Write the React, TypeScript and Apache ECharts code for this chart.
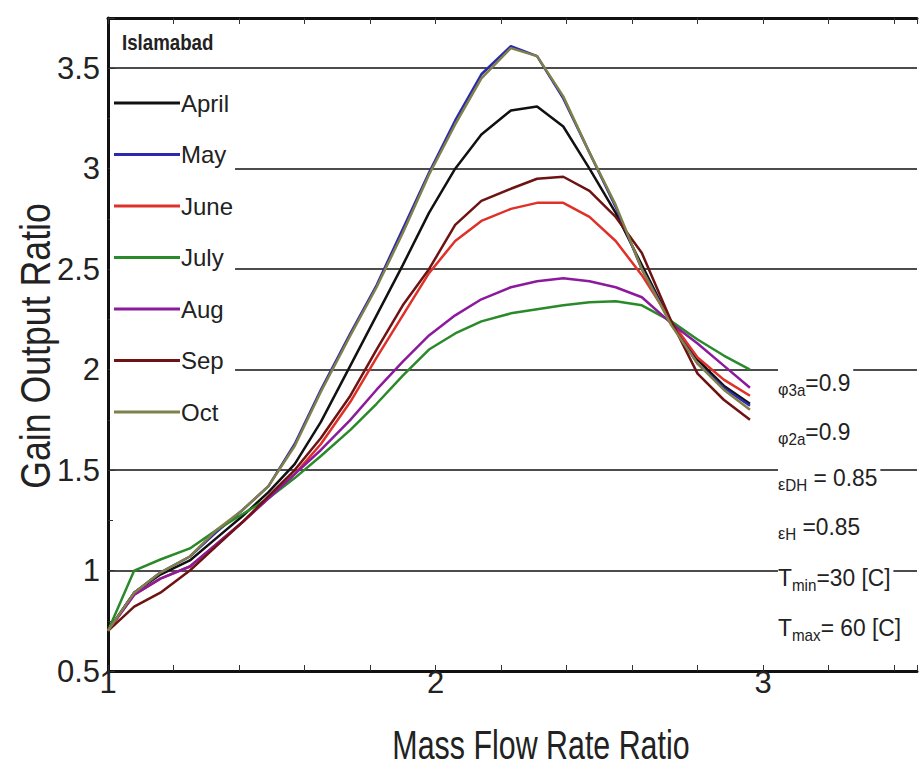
import React, { useEffect, useRef } from 'react';
import * as echarts from 'echarts';

const FONT = "'Liberation Sans', Arial, Helvetica, sans-serif";

const xValues = [1.00, 1.08, 1.16, 1.25, 1.33, 1.41, 1.49, 1.57, 1.65, 1.74, 1.82, 1.90, 1.98, 2.06, 2.14, 2.23, 2.31, 2.39, 2.47, 2.55, 2.63, 2.72, 2.80, 2.88, 2.96];

const april = [0.70, 0.89, 0.98, 1.05, 1.16, 1.27, 1.39, 1.53, 1.74, 2.02, 2.27, 2.52, 2.78, 3.00, 3.17, 3.29, 3.31, 3.21, 3.00, 2.78, 2.52, 2.23, 2.05, 1.92, 1.83];
const may = [0.70, 0.89, 0.99, 1.07, 1.19, 1.30, 1.42, 1.63, 1.90, 2.18, 2.42, 2.70, 2.98, 3.24, 3.47, 3.61, 3.56, 3.35, 3.08, 2.81, 2.50, 2.23, 2.03, 1.91, 1.82];
const june = [0.70, 0.88, 0.96, 1.02, 1.13, 1.24, 1.36, 1.48, 1.63, 1.84, 2.06, 2.27, 2.48, 2.64, 2.74, 2.80, 2.83, 2.83, 2.76, 2.64, 2.47, 2.24, 2.06, 1.95, 1.87];
const july = [0.70, 1.00, 1.055, 1.11, 1.20, 1.28, 1.36, 1.46, 1.57, 1.70, 1.83, 1.97, 2.10, 2.18, 2.24, 2.28, 2.30, 2.32, 2.335, 2.34, 2.32, 2.24, 2.15, 2.07, 2.00];
const aug = [0.70, 0.88, 0.96, 1.02, 1.13, 1.24, 1.36, 1.48, 1.60, 1.75, 1.90, 2.04, 2.17, 2.27, 2.35, 2.41, 2.44, 2.455, 2.44, 2.41, 2.36, 2.23, 2.13, 2.02, 1.91];
const sep = [0.70, 0.82, 0.89, 1.00, 1.12, 1.24, 1.37, 1.50, 1.66, 1.87, 2.10, 2.32, 2.50, 2.72, 2.84, 2.90, 2.95, 2.96, 2.89, 2.76, 2.58, 2.24, 1.98, 1.85, 1.75];
const oct = [0.70, 0.89, 0.99, 1.07, 1.20, 1.30, 1.42, 1.62, 1.89, 2.17, 2.41, 2.68, 2.97, 3.22, 3.45, 3.60, 3.56, 3.36, 3.08, 2.82, 2.50, 2.22, 2.03, 1.90, 1.80];

const months = ['April', 'May', 'June', 'July', 'Aug', 'Sep', 'Oct'];
const monthValues = [april, may, june, july, aug, sep, oct];
const monthColors = ['#111111', '#2a2ab0', '#e0302a', '#2a8a2a', '#8c1a9c', '#6e1212', '#808048'];

const yLabels = ['0.5', '1', '1.5', '2', '2.5', '3', '3.5'];
const xLabels = ['1', '2', '3'];

const chartTitle = 'Islamabad';
const xTitle = 'Mass Flow Rate Ratio';
const yTitle = 'Gain Output Ratio';
const annotations = [
  '{g|\u03c6}{s|3a}{n|=0.9}',
  '{g|\u03c6}{s|2a}{n|=0.9}',
  '{g|\u03b5}{s|DH}{n| = 0.85}',
  '{g|\u03b5}{s|H}{n| =0.85}',
  '{n|T}{s|min}{n|=30 [C]}',
  '{n|T}{s|max}{n|= 60 [C]}',
];

export default function App() {
  const ref = useRef<HTMLDivElement>(null);
  useEffect(() => {
    if (!ref.current) return;
    const chart = echarts.init(ref.current, undefined, { renderer: 'svg' });
    const findLabel = (v: number, list: string[]) => list.find((l) => Math.abs(parseFloat(l) - v) < 1e-6);
    const annY = [383, 432, 478, 527, 578, 628];
    chart.setOption({
      animation: false,
      backgroundColor: '#fff',
      grid: { left: 108, top: 18, right: 0, bottom: 98, containLabel: false },
      xAxis: [
        {
          type: 'value', min: 1, max: 3.47, interval: 0.2, position: 'bottom',
          axisLine: { show: true, lineStyle: { color: '#111', width: 3 } },
          axisTick: { show: true, inside: true, length: 6, lineStyle: { color: '#333', width: 1 } },
          axisLabel: {
            show: true, margin: -4, fontSize: 31, color: '#222', fontFamily: FONT,
            formatter: (v: number) => findLabel(v, xLabels) || '',
          },
          splitLine: { show: false },
        },
        {
          type: 'value', min: 1, max: 3.47, interval: 0.2, position: 'top',
          axisLine: { show: true, lineStyle: { color: '#111', width: 3 } },
          axisTick: { show: true, inside: true, length: 6, lineStyle: { color: '#333', width: 1 } },
          axisLabel: { show: false },
          splitLine: { show: false },
        },
      ],
      yAxis: {
        type: 'value', min: 0.5, max: 3.75, interval: 0.5,
        axisLine: { show: true, lineStyle: { color: '#111', width: 3 } },
        axisTick: { show: true, inside: true, length: 7, lineStyle: { color: '#333', width: 1 } },
        minorTick: { show: true, splitNumber: 2, length: 5, lineStyle: { color: '#333', width: 1 } },
        axisLabel: {
          show: true, margin: 8, fontSize: 31, color: '#222', fontFamily: FONT,
          formatter: (v: number) => findLabel(v, yLabels) || '',
        },
        splitLine: { show: true, lineStyle: { color: '#111', width: 1.5 } },
      },
      legend: {
        orient: 'vertical', left: 110, top: 87, icon: 'rect', itemWidth: 66, itemHeight: 3, itemGap: 27.5,
        padding: [4, 2, 6, 4], backgroundColor: '#fff',
        textStyle: { fontSize: 24, color: '#222', fontFamily: FONT, lineHeight: 24, padding: [0, 0, 0, -4] },
        data: months,
      },
      series: months.map((m, i) => ({
        name: m,
        type: 'line',
        symbol: 'none',
        color: monthColors[i],
        lineStyle: { color: monthColors[i], width: 2.5 },
        data: xValues.map((x, j) => [x, monthValues[i][j]]),
      })),
      graphic: [
        {
          type: 'text', x: 122, y: 42, scaleX: 0.85, z: 10,
          style: { text: chartTitle, fontSize: 22, fontWeight: 'bold', fontFamily: FONT, fill: '#222', align: 'left', verticalAlign: 'middle' },
        },
        {
          type: 'text', x: 541, y: 745, scaleX: 0.76, z: 10,
          style: { text: xTitle, fontSize: 40, fontFamily: FONT, fill: '#222', align: 'center', verticalAlign: 'middle' },
        },
        {
          type: 'text', x: 35, y: 346, rotation: Math.PI / 2, scaleX: 0.85, z: 10,
          style: { text: yTitle, fontSize: 42, fontFamily: FONT, fill: '#222', align: 'center', verticalAlign: 'middle' },
        },
        ...annotations.map((a, i) => ({
          type: 'text', x: 778, y: annY[i], scaleX: 0.95, z: 10,
          style: {
            text: a, align: 'left', verticalAlign: 'middle', backgroundColor: '#fff', padding: [0, 3, 0, 0],
            fontFamily: FONT, fill: '#222',
            rich: {
              n: { fontSize: 24, lineHeight: 30, verticalAlign: 'middle', fontFamily: FONT, fill: '#222' },
              g: { fontSize: 17, lineHeight: 26, verticalAlign: 'bottom', fontFamily: FONT, fill: '#222' },
              s: { fontSize: 16, lineHeight: 15, verticalAlign: 'bottom', fontFamily: FONT, fill: '#222' },
            },
          },
        })),
      ],
    });
    return () => chart.dispose();
  }, []);
  return <div ref={ref} style={{ position: 'fixed', left: 0, top: 0, width: 920, height: 769 }} />;
}
